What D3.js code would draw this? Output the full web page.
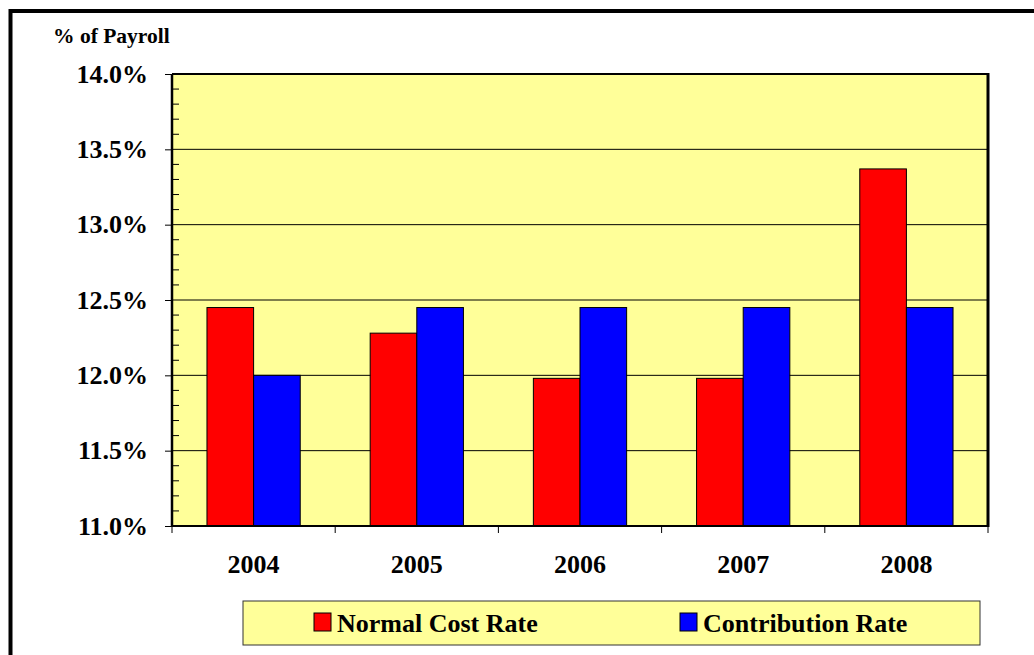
<!DOCTYPE html>
<html>
<head>
<meta charset="utf-8">
<script src="https://cdn.jsdelivr.net/npm/d3@7"></script>
<style>
  body { margin: 0; background: #fff; }
  svg { display: block; }
  text { font-family: "Liberation Serif", "Times New Roman", serif; font-weight: bold; fill: #000; }
</style>
</head>
<body>
<svg id="chart" width="1034" height="655"></svg>
<script>
// data
let years = ["2004", "2005", "2006", "2007", "2008"];
let normalCost = [12.45, 12.28, 11.98, 11.98, 13.37];
let contribution = [12.0, 12.45, 12.45, 12.45, 12.45];
let seriesNames = ["Normal Cost Rate", "Contribution Rate"];
let seriesColors = ["#FF0000", "#0000FF"];
let yTicks = [11.0, 11.5, 12.0, 12.5, 13.0, 13.5, 14.0];

let svg = d3.select("#chart");

// outer frame
svg.append("rect")
   .attr("x", 10.5).attr("y", 11)
   .attr("width", 1040).attr("height", 660)
   .attr("fill", "#fff")
   .attr("stroke", "#000")
   .attr("stroke-width", 4);

let plotL = 172, plotT = 74, plotR = 988, plotB = 526;

let y = d3.scaleLinear().domain([11, 14]).range([plotB, plotT]);
let x0 = d3.scaleBand().domain(years).range([plotL, plotR]).paddingInner(0).paddingOuter(0);
let bw = x0.bandwidth() / 3.5;

// plot area
svg.append("rect")
   .attr("x", plotL).attr("y", plotT)
   .attr("width", plotR - plotL).attr("height", plotB - plotT)
   .attr("fill", "#FFFF99");

// gridlines
svg.append("g")
   .selectAll("line")
   .data(yTicks.slice(1, -1))
   .enter()
   .append("line")
   .attr("x1", plotL).attr("x2", plotR)
   .attr("y1", d => y(d)).attr("y2", d => y(d))
   .attr("stroke", "#000")
   .attr("stroke-width", 1);

// bars
let rows = years.map((yr, i) => ({ year: yr, vals: [normalCost[i], contribution[i]] }));
let groups = svg.append("g")
   .selectAll("g")
   .data(rows)
   .enter()
   .append("g");

groups.selectAll("rect")
   .data(d => d.vals.map((v, j) => ({ year: d.year, v: v, j: j })))
   .enter()
   .append("rect")
   .attr("x", d => x0(d.year) + x0.bandwidth() / 2 - bw + d.j * bw)
   .attr("y", d => y(d.v))
   .attr("width", bw)
   .attr("height", d => plotB - y(d.v))
   .attr("fill", d => seriesColors[d.j])
   .attr("stroke", "#000")
   .attr("stroke-width", 1);

// minor ticks inside the y axis
let minor = d3.range(11.1, 14.0, 0.1).filter(v => Math.abs(v * 2 - Math.round(v * 2)) > 0.01);
svg.append("g")
   .selectAll("line")
   .data(minor)
   .enter()
   .append("line")
   .attr("x1", plotL).attr("x2", plotL + 7)
   .attr("y1", d => y(d)).attr("y2", d => y(d))
   .attr("stroke", "#000")
   .attr("stroke-width", 1);

// y axis
let yAxis = d3.axisLeft(y)
   .tickValues(yTicks)
   .tickFormat(d => d.toFixed(1) + "%")
   .tickSize(7)
   .tickPadding(17);
let gy = svg.append("g")
   .attr("transform", `translate(${plotL},0)`)
   .call(yAxis);
gy.select(".domain").remove();
gy.selectAll("line").attr("stroke", "#000");
gy.selectAll("text")
  .style("font-family", '"Liberation Serif", serif')
  .style("font-weight", "bold")
  .style("font-size", "26px")
  .attr("fill", "#000");

// x axis
let xAxis = d3.axisBottom(x0).tickSize(0).tickPadding(29);
let gx = svg.append("g")
   .attr("transform", `translate(0,${plotB})`)
   .call(xAxis);
gx.select(".domain").remove();
gx.selectAll("text")
  .style("font-family", '"Liberation Serif", serif')
  .style("font-weight", "bold")
  .style("font-size", "26px")
  .attr("fill", "#000");

// x category boundary ticks
let bounds = years.map(d => x0(d)).concat([plotR]);
svg.append("g")
   .selectAll("line")
   .data(bounds)
   .enter()
   .append("line")
   .attr("x1", d => d).attr("x2", d => d)
   .attr("y1", plotB).attr("y2", plotB + 7)
   .attr("stroke", "#000")
   .attr("stroke-width", 1);

// plot borders
svg.append("line").attr("x1", plotL).attr("x2", plotL).attr("y1", plotT).attr("y2", plotB + 1)
   .attr("stroke", "#000").attr("stroke-width", 2.5);
svg.append("line").attr("x1", plotL).attr("x2", plotR).attr("y1", plotB).attr("y2", plotB)
   .attr("stroke", "#000").attr("stroke-width", 2);
svg.append("line").attr("x1", plotL).attr("x2", plotR).attr("y1", plotT).attr("y2", plotT)
   .attr("stroke", "#000").attr("stroke-width", 2);
svg.append("line").attr("x1", plotR).attr("x2", plotR).attr("y1", plotT - 1).attr("y2", plotB + 1)
   .attr("stroke", "#000").attr("stroke-width", 3);

// axis title
svg.append("text")
   .attr("x", 53).attr("y", 43)
   .style("font-size", "21.5px")
   .text("% of Payroll");

// legend
svg.append("rect")
   .attr("x", 243).attr("y", 601)
   .attr("width", 737).attr("height", 44)
   .attr("fill", "#FFFF99")
   .attr("stroke", "#333")
   .attr("stroke-width", 1);

let legendX = [314, 680];
let leg = svg.append("g")
   .selectAll("g")
   .data(seriesNames)
   .enter()
   .append("g")
   .attr("transform", (d, i) => `translate(${legendX[i]},613)`);
leg.append("rect")
   .attr("width", 17).attr("height", 18)
   .attr("fill", (d, i) => seriesColors[i])
   .attr("stroke", "#000")
   .attr("stroke-width", 1);
leg.append("text")
   .attr("x", 23).attr("y", 19)
   .style("font-size", "26px")
   .text(d => d);
</script>
</body>
</html>
